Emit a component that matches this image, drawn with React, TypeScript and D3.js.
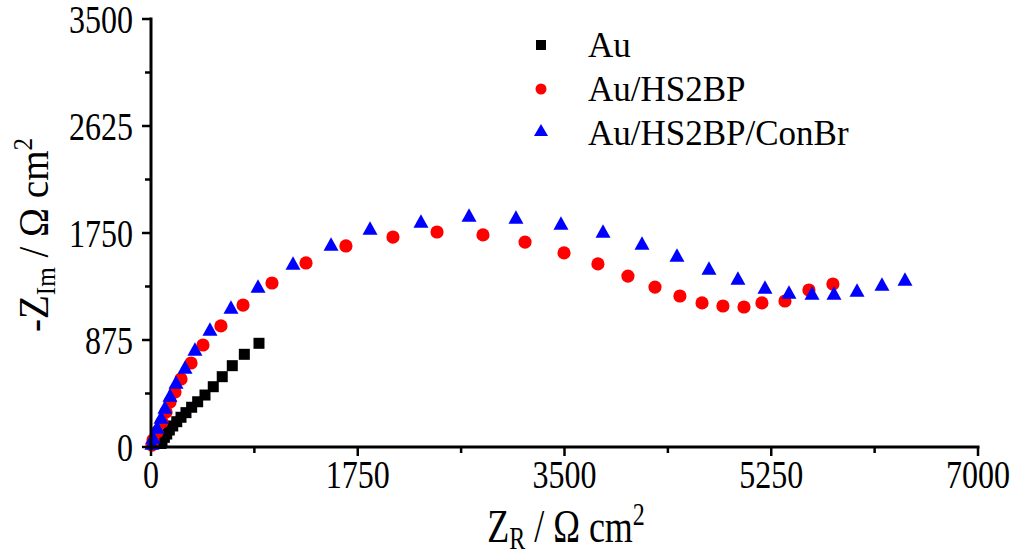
import React from "react";
import * as d3 from "d3";

// ---- data (Ω cm²) ----
const auX = [85, 93, 113, 133, 155, 184, 218, 254, 296, 344, 395, 457, 527, 603, 688, 790, 914];
const auY = [29, 53, 79, 106, 139, 172, 207, 243, 281, 325, 370, 425, 493, 575, 665, 758, 848];

const bpX = [8, 17, 51, 93, 127, 161, 203, 254, 339, 440, 592, 779, 1024, 1312, 1650, 2048, 2421, 2810, 3166, 3496, 3783, 4037, 4266, 4477, 4664, 4841, 5019, 5171, 5366, 5569, 5772];
const bpY = [16, 57, 123, 204, 286, 368, 450, 556, 687, 834, 990, 1161, 1341, 1505, 1644, 1717, 1758, 1734, 1676, 1587, 1497, 1398, 1308, 1235, 1178, 1153, 1145, 1178, 1194, 1284, 1333];

const cbX = [8, 17, 51, 85, 118, 161, 212, 288, 372, 499, 677, 906, 1202, 1524, 1854, 2285, 2692, 3089, 3470, 3826, 4156, 4452, 4723, 4968, 5197, 5400, 5595, 5781, 5976, 6187, 6382];
const cbY = [33, 82, 164, 245, 327, 425, 532, 654, 801, 965, 1145, 1317, 1505, 1660, 1791, 1848, 1897, 1881, 1832, 1766, 1668, 1570, 1464, 1382, 1308, 1268, 1259, 1259, 1284, 1333, 1374];

const xTicks = [0, 1750, 3500, 5250, 7000];
const yTicks = [0, 875, 1750, 2625, 3500];
const xMinor = [875, 2625, 4375, 6125];
const yMinor = [437.5, 1312.5, 2187.5, 3062.5];

const seriesNames = ["Au", "Au/HS2BP", "Au/HS2BP/ConBr"];
const seriesColors = ["#000000", "#ff0000", "#0000ff"];

const FONT = "'Liberation Serif', 'Times New Roman', Times, serif";

function tri(cx: number, cy: number, w: number, h: number) {
  return `M${cx},${cy - h / 2}L${cx + w / 2},${cy + h / 2}L${cx - w / 2},${cy + h / 2}Z`;
}

export default function App() {
  const x = d3.scaleLinear().domain([0, 7000]).range([151, 978]);
  const y = d3.scaleLinear().domain([0, 3500]).range([447, 19]);

  const au = auX.map((v, i) => [v, auY[i]]);
  const bp = bpX.map((v, i) => [v, bpY[i]]);
  const cb = cbX.map((v, i) => [v, cbY[i]]);

  const TS = 32; // tick font size
  const VS = 1.25; // vertical stretch

  return (
    <svg
      width={1020}
      height={555}
      style={{ position: "absolute", left: 0, top: 0, background: "#fff" }}
      fontFamily={FONT}
    >
      <rect x={0} y={0} width={1020} height={555} fill="#fff" />

      {/* data */}
      {au.map((d, i) => (
        <rect key={"a" + i} x={x(d[0]) - 5.5} y={y(d[1]) - 5.5} width={11} height={11} fill={seriesColors[0]} />
      ))}
      {bp.map((d, i) => (
        <circle key={"b" + i} cx={x(d[0])} cy={y(d[1])} r={6.6} fill={seriesColors[1]} />
      ))}
      {cb.map((d, i) => (
        <path key={"c" + i} d={tri(x(d[0]), y(d[1]), 15, 13.5)} fill={seriesColors[2]} />
      ))}

      {/* axes */}
      <line x1={151} x2={151} y1={17.5} y2={448.5} stroke="#000" strokeWidth={3} />
      <line x1={149.5} x2={979.5} y1={447} y2={447} stroke="#000" strokeWidth={3} />

      {yTicks.map((t) => (
        <g key={"yt" + t}>
          <line x1={142} x2={151} y1={y(t)} y2={y(t)} stroke="#000" strokeWidth={2.5} />
          <text
            transform={`translate(133,${y(t) + 13.5}) scale(1,${VS})`}
            textAnchor="end"
            fontSize={TS}
            fill="#000"
          >
            {t}
          </text>
        </g>
      ))}
      {yMinor.map((t) => (
        <line key={"ym" + t} x1={145} x2={151} y1={y(t)} y2={y(t)} stroke="#000" strokeWidth={2.5} />
      ))}
      {xTicks.map((t) => (
        <g key={"xt" + t}>
          <line x1={x(t)} x2={x(t)} y1={447} y2={456} stroke="#000" strokeWidth={2.5} />
          <text
            transform={`translate(${x(t)},488) scale(1,${VS})`}
            textAnchor="middle"
            fontSize={TS}
            fill="#000"
          >
            {t}
          </text>
        </g>
      ))}
      {xMinor.map((t) => (
        <line key={"xm" + t} x1={x(t)} x2={x(t)} y1={447} y2={453} stroke="#000" strokeWidth={2.5} />
      ))}

      {/* x title */}
      <text transform={`translate(566,542) scale(1,1.3)`} textAnchor="middle" fontSize={36} fill="#000">
        Z
        <tspan fontSize={24} dy={5}>R</tspan>
        <tspan dy={-5}> / Ω cm</tspan>
        <tspan fontSize={24} dy={-13}>2</tspan>
      </text>

      {/* y title */}
      <text transform={`translate(48,235) rotate(-90) scale(0.93,1)`} textAnchor="middle" fontSize={42} fill="#000">
        -Z
        <tspan fontSize={27} dy={7}>Im</tspan>
        <tspan dy={-7}> / Ω cm</tspan>
        <tspan fontSize={27} dy={-16}>2</tspan>
      </text>

      {/* legend */}
      <rect x={536} y={40} width={10} height={10} fill={seriesColors[0]} />
      <circle cx={541} cy={89} r={5.5} fill={seriesColors[1]} />
      <path d={tri(541, 130, 14, 12)} fill={seriesColors[2]} />
      {seriesNames.map((n, i) => (
        <text key={n} x={588} y={57 + i * 44} fontSize={35} fill="#000">
          {n}
        </text>
      ))}
    </svg>
  );
}
